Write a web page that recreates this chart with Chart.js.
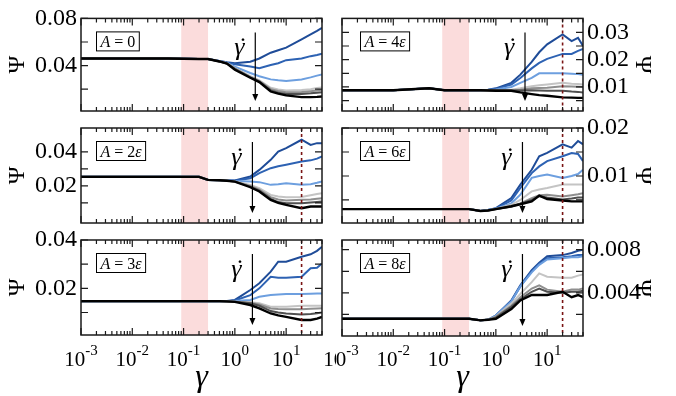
<!DOCTYPE html>
<html>
<head>
<meta charset="utf-8">
<script src="https://cdn.jsdelivr.net/npm/chart.js@4.4.1/dist/chart.umd.min.js"></script>
<style>
  body { margin: 0; background: #fff; }
  #wrap { position: relative; width: 676px; height: 396px; overflow: hidden; }
  canvas { position: absolute; top: 0; }
</style>
</head>
<body>
<div id="wrap"></div>
<script>
// shear strain gamma (x of every curve)
const gammaVals = [0.001, 0.01, 0.05, 0.1, 0.2, 0.3, 0.5, 0.7, 1, 2, 3, 5, 7, 10, 20, 30, 40, 50]

// Psi(gamma), one row per shear rate (fast -> slow, blue -> black)
const psiA0 = [
  [0.046, 0.046, 0.046, 0.0458, 0.0456, 0.0456, 0.0440, 0.0428, 0.0419, 0.0433, 0.0460, 0.0509, 0.0530, 0.0552, 0.0623, 0.0665, 0.0695, 0.0720],
  [0.046, 0.046, 0.046, 0.0458, 0.0456, 0.0456, 0.0438, 0.0425, 0.0411, 0.0392, 0.0378, 0.0405, 0.0420, 0.0446, 0.0460, 0.0480, 0.0490, 0.0500],
  [0.046, 0.046, 0.046, 0.0458, 0.0456, 0.0456, 0.0437, 0.0422, 0.0390, 0.0337, 0.0310, 0.0283, 0.0275, 0.0270, 0.0283, 0.0300, 0.0315, 0.0324],
  [0.046, 0.046, 0.046, 0.0458, 0.0456, 0.0456, 0.0436, 0.0420, 0.0378, 0.0310, 0.0275, 0.0212, 0.0198, 0.0188, 0.0193, 0.0200, 0.0210, 0.0215],
  [0.046, 0.046, 0.046, 0.0458, 0.0456, 0.0456, 0.0436, 0.0419, 0.0375, 0.0305, 0.0270, 0.0200, 0.0185, 0.0174, 0.0177, 0.0183, 0.0188, 0.0193],
  [0.046, 0.046, 0.046, 0.0458, 0.0456, 0.0456, 0.0435, 0.0418, 0.0372, 0.0300, 0.0265, 0.0190, 0.0170, 0.0160, 0.0160, 0.0165, 0.0170, 0.0174],
  [0.046, 0.046, 0.046, 0.0458, 0.0456, 0.0456, 0.0435, 0.0417, 0.0365, 0.0297, 0.0260, 0.0180, 0.0162, 0.0147, 0.0133, 0.0133, 0.0135, 0.0138]
]
const psiA2 = [
  [0.0253, 0.0253, 0.0253, 0.0253, 0.0253, 0.0235, 0.0234, 0.0233, 0.0232, 0.0255, 0.0294, 0.0353, 0.0402, 0.0422, 0.0471, 0.0441, 0.0451, 0.0451],
  [0.0253, 0.0253, 0.0253, 0.0253, 0.0253, 0.0235, 0.0233, 0.0232, 0.0230, 0.0245, 0.0275, 0.0304, 0.0315, 0.0324, 0.0343, 0.0350, 0.0360, 0.0373],
  [0.0253, 0.0253, 0.0253, 0.0253, 0.0253, 0.0235, 0.0233, 0.0231, 0.0228, 0.0226, 0.0222, 0.0206, 0.0210, 0.0216, 0.0206, 0.0210, 0.0218, 0.0226],
  [0.0253, 0.0253, 0.0253, 0.0253, 0.0253, 0.0235, 0.0233, 0.0231, 0.0226, 0.0206, 0.0186, 0.0147, 0.0138, 0.0133, 0.0135, 0.0145, 0.0152, 0.0157],
  [0.0253, 0.0253, 0.0253, 0.0253, 0.0253, 0.0235, 0.0233, 0.0230, 0.0226, 0.0200, 0.0178, 0.0134, 0.0120, 0.0114, 0.0118, 0.0120, 0.0124, 0.0127],
  [0.0253, 0.0253, 0.0253, 0.0253, 0.0253, 0.0235, 0.0233, 0.0230, 0.0225, 0.0196, 0.0172, 0.0124, 0.0105, 0.0098, 0.0098, 0.0103, 0.0106, 0.0108],
  [0.0253, 0.0253, 0.0253, 0.0253, 0.0253, 0.0235, 0.0233, 0.0230, 0.0225, 0.0192, 0.0167, 0.0118, 0.0100, 0.0088, 0.0069, 0.0079, 0.0079, 0.0079]
]
const psiA3 = [
  [0.0147, 0.0147, 0.0147, 0.0147, 0.0147, 0.0147, 0.0147, 0.0148, 0.0152, 0.0193, 0.0221, 0.0269, 0.0310, 0.0310, 0.0331, 0.0341, 0.0355, 0.0372],
  [0.0147, 0.0147, 0.0147, 0.0147, 0.0147, 0.0147, 0.0147, 0.0147, 0.0150, 0.0172, 0.0200, 0.0248, 0.0244, 0.0244, 0.0248, 0.0283, 0.0285, 0.0303],
  [0.0147, 0.0147, 0.0147, 0.0147, 0.0147, 0.0147, 0.0147, 0.0147, 0.0148, 0.0152, 0.0165, 0.0172, 0.0175, 0.0177, 0.0177, 0.0178, 0.0179, 0.0179],
  [0.0147, 0.0147, 0.0147, 0.0147, 0.0147, 0.0147, 0.0147, 0.0146, 0.0145, 0.0142, 0.0138, 0.0124, 0.0124, 0.0124, 0.0128, 0.0128, 0.0128, 0.0128],
  [0.0147, 0.0147, 0.0147, 0.0147, 0.0147, 0.0147, 0.0147, 0.0146, 0.0145, 0.0140, 0.0133, 0.0117, 0.0115, 0.0114, 0.0114, 0.0116, 0.0117, 0.0118],
  [0.0147, 0.0147, 0.0147, 0.0147, 0.0147, 0.0147, 0.0147, 0.0146, 0.0145, 0.0138, 0.0128, 0.0106, 0.0100, 0.0096, 0.0092, 0.0094, 0.0097, 0.0100],
  [0.0147, 0.0147, 0.0147, 0.0147, 0.0147, 0.0147, 0.0147, 0.0146, 0.0144, 0.0131, 0.0117, 0.0096, 0.0088, 0.0082, 0.0069, 0.0069, 0.0075, 0.0082]
]
const psiA4 = [
  [0.0088, 0.0088, 0.0095, 0.0088, 0.0088, 0.0088, 0.0088, 0.0090, 0.0095, 0.0115, 0.0145, 0.0192, 0.0227, 0.0256, 0.0292, 0.0268, 0.0280, 0.0250],
  [0.0088, 0.0088, 0.0095, 0.0088, 0.0088, 0.0088, 0.0088, 0.0089, 0.0093, 0.0109, 0.0133, 0.0168, 0.0188, 0.0203, 0.0221, 0.0221, 0.0232, 0.0239],
  [0.0088, 0.0088, 0.0095, 0.0088, 0.0088, 0.0088, 0.0088, 0.0089, 0.0091, 0.0100, 0.0115, 0.0133, 0.0150, 0.0150, 0.0150, 0.0148, 0.0147, 0.0145],
  [0.0088, 0.0088, 0.0095, 0.0088, 0.0088, 0.0088, 0.0088, 0.0088, 0.0089, 0.0090, 0.0095, 0.0103, 0.0106, 0.0109, 0.0115, 0.0112, 0.0111, 0.0109],
  [0.0088, 0.0088, 0.0095, 0.0088, 0.0088, 0.0088, 0.0088, 0.0088, 0.0088, 0.0088, 0.0090, 0.0095, 0.0096, 0.0097, 0.0103, 0.0102, 0.0101, 0.0100],
  [0.0088, 0.0088, 0.0095, 0.0088, 0.0088, 0.0088, 0.0088, 0.0088, 0.0088, 0.0087, 0.0087, 0.0088, 0.0087, 0.0086, 0.0086, 0.0083, 0.0082, 0.0080],
  [0.0088, 0.0088, 0.0095, 0.0088, 0.0088, 0.0088, 0.0088, 0.0087, 0.0086, 0.0086, 0.0080, 0.0074, 0.0070, 0.0068, 0.0062, 0.0061, 0.0060, 0.0060]
]
const psiA6 = [
  [0.0031, 0.0031, 0.0031, 0.0031, 0.0031, 0.0031, 0.0027, 0.0029, 0.0033, 0.0054, 0.0082, 0.0113, 0.0141, 0.0148, 0.0166, 0.0159, 0.0173, 0.0166],
  [0.0031, 0.0031, 0.0031, 0.0031, 0.0031, 0.0031, 0.0027, 0.0029, 0.0032, 0.0049, 0.0075, 0.0106, 0.0120, 0.0131, 0.0141, 0.0148, 0.0146, 0.0131],
  [0.0031, 0.0031, 0.0031, 0.0031, 0.0031, 0.0031, 0.0027, 0.0029, 0.0032, 0.0043, 0.0061, 0.0096, 0.0100, 0.0103, 0.0096, 0.0100, 0.0104, 0.0113],
  [0.0031, 0.0031, 0.0031, 0.0031, 0.0031, 0.0031, 0.0027, 0.0028, 0.0031, 0.0040, 0.0050, 0.0068, 0.0072, 0.0075, 0.0082, 0.0082, 0.0082, 0.0082],
  [0.0031, 0.0031, 0.0031, 0.0031, 0.0031, 0.0031, 0.0027, 0.0028, 0.0031, 0.0037, 0.0043, 0.0054, 0.0060, 0.0061, 0.0057, 0.0060, 0.0062, 0.0064],
  [0.0031, 0.0031, 0.0031, 0.0031, 0.0031, 0.0031, 0.0027, 0.0028, 0.0031, 0.0036, 0.0042, 0.0050, 0.0058, 0.0055, 0.0051, 0.0053, 0.0055, 0.0055],
  [0.0031, 0.0031, 0.0031, 0.0031, 0.0031, 0.0031, 0.0027, 0.0028, 0.0031, 0.0037, 0.0041, 0.0047, 0.0059, 0.0052, 0.0049, 0.0047, 0.0047, 0.0047]
]
const psiA8 = [
  [0.0016, 0.0016, 0.0016, 0.0016, 0.0016, 0.0016, 0.00145, 0.0015, 0.0019, 0.0033, 0.0047, 0.0061, 0.0068, 0.0074, 0.0075, 0.0077, 0.0079, 0.0080],
  [0.0016, 0.0016, 0.0016, 0.0016, 0.0016, 0.0016, 0.00145, 0.0015, 0.0019, 0.0032, 0.0046, 0.0060, 0.0067, 0.0072, 0.0073, 0.0074, 0.0075, 0.0075],
  [0.0016, 0.0016, 0.0016, 0.0016, 0.0016, 0.0016, 0.00145, 0.0015, 0.0019, 0.0032, 0.0046, 0.0059, 0.0066, 0.0071, 0.0072, 0.0073, 0.0073, 0.0074],
  [0.0016, 0.0016, 0.0016, 0.0016, 0.0016, 0.0016, 0.00145, 0.0015, 0.0018, 0.0030, 0.0039, 0.0050, 0.0058, 0.0055, 0.0054, 0.0054, 0.0056, 0.0057],
  [0.0016, 0.0016, 0.0016, 0.0016, 0.0016, 0.0016, 0.00145, 0.0015, 0.0018, 0.0028, 0.0036, 0.0044, 0.0047, 0.0043, 0.0041, 0.0043, 0.0043, 0.0044],
  [0.0016, 0.0016, 0.0016, 0.0016, 0.0016, 0.0016, 0.00145, 0.0015, 0.0017, 0.0027, 0.0034, 0.0041, 0.0044, 0.0041, 0.0040, 0.0041, 0.0041, 0.0042],
  [0.0016, 0.0016, 0.0016, 0.0016, 0.0016, 0.0016, 0.00145, 0.0015, 0.0016, 0.0025, 0.0033, 0.0038, 0.0038, 0.0038, 0.0041, 0.0036, 0.0038, 0.0036]
]

const lineColors = ['#1f4c98', '#2d62b3', '#6d9fdf', '#c4c4c4', '#8f8f8f', '#505050', '#000000']

// panel order: left column top->bottom, then right column top->bottom
const panelData = [psiA0, psiA2, psiA3, psiA4, psiA6, psiA8]
const panelA = ['0', '2ε', '3ε', '4ε', '6ε', '8ε']
const yMins = [0.0015, -0.0018, 0.0007, 0.0012, 0.0002, 0]
const yMaxs = [0.08, 0.054, 0.04, 0.0351, 0.02, 0.0089]
const yTickVals = [
  [0.02, 0.04, 0.06, 0.08],
  [0.01, 0.02, 0.03, 0.04],
  [0.01, 0.02, 0.03, 0.04],
  [0.005, 0.01, 0.015, 0.02, 0.025, 0.03],
  [0.005, 0.01, 0.015, 0.02],
  [0.002, 0.004, 0.006, 0.008]
]
const yTickLabels = [
  ['', '0.04', '', '0.08'],
  ['', '0.02', '', '0.04'],
  ['', '0.02', '', '0.04'],
  ['', '0.01', '', '0.02', '', '0.03'],
  ['', '0.01', '', '0.02'],
  ['', '0.004', '', '0.008']
]
const arrowGamma = [2.5, 2.2, 2.2, 3.7, 3.3, 3.3]
const dashGamma = [null, 20, 20, 20, 20, 20]
const bandGamma = [0.09, 0.3]
const xDecadesLeft = [-3, -2, -1, 0, 1, 2]
const xDecadesRight = [-3, -2, -1, 0, 1]

const SERIF = '"Liberation Serif", "DejaVu Serif", serif'

/* everything around the curves: frame, ticks, band, arrow, labels */
const panelDecor = {
  id: 'panelDecor',
  beforeDatasetsDraw(chart, args, o) {
    const {ctx, chartArea: a} = chart
    const x = chart.scales.x
    const x0 = x.getPixelForValue(bandGamma[0])
    const x1 = x.getPixelForValue(bandGamma[1])
    ctx.save()
    ctx.fillStyle = '#fbdcdc'
    ctx.fillRect(x0, a.top, x1 - x0, a.bottom - a.top)
    ctx.restore()
  },
  afterDatasetsDraw(chart, args, o) {
    const {ctx, chartArea: a} = chart
    const x = chart.scales.x, y = chart.scales.y
    ctx.save()

    // dashed line
    if (o.dash) {
      const px = x.getPixelForValue(o.dash)
      ctx.strokeStyle = '#7a1414'
      ctx.lineWidth = 1.6
      ctx.setLineDash([3, 3])
      ctx.beginPath(); ctx.moveTo(px, a.top); ctx.lineTo(px, a.bottom); ctx.stroke()
      ctx.setLineDash([])
    }

    // frame
    ctx.strokeStyle = '#1a1a1a'
    ctx.lineWidth = 1.5
    ctx.strokeRect(a.left, a.top, a.right - a.left, a.bottom - a.top)

    // inward ticks
    ctx.lineWidth = 1.2
    ctx.beginPath()
    for (const d of xDecadesLeft) {
      for (let k = 1; k <= 9; k++) {
        const v = k * Math.pow(10, d)
        if (v < x.min || v > x.max) continue
        const px = x.getPixelForValue(v)
        const len = k === 1 ? 7 : 4
        ctx.moveTo(px, a.bottom); ctx.lineTo(px, a.bottom - len)
        ctx.moveTo(px, a.top); ctx.lineTo(px, a.top + len)
      }
    }
    y.ticks.forEach(t => {
      const py = y.getPixelForValue(t.value)
      ctx.moveTo(a.left, py); ctx.lineTo(a.left + 7, py)
      ctx.moveTo(a.right, py); ctx.lineTo(a.right - 7, py)
    })
    ctx.stroke()

    // shear-rate arrow
    const ax = x.getPixelForValue(o.arrow)
    const yTop = a.top + 14, yBot = a.bottom - 10
    ctx.strokeStyle = '#000'
    ctx.lineWidth = 1.2
    ctx.beginPath(); ctx.moveTo(ax, yTop); ctx.lineTo(ax, yBot - 6); ctx.stroke()
    ctx.fillStyle = '#000'
    ctx.beginPath(); ctx.moveTo(ax - 3, yBot - 7); ctx.lineTo(ax + 3, yBot - 7); ctx.lineTo(ax, yBot); ctx.closePath(); ctx.fill()
    ctx.font = 'italic 26px ' + SERIF
    ctx.textAlign = 'center'
    ctx.textBaseline = 'alphabetic'
    ctx.fillText('γ', ax - 16, a.top + 37)
    ctx.fillText('˙', ax - 14, a.top + 37)

    // A label in a box
    ctx.textAlign = 'left'
    const parts = [['A', true], [' = ', false]]
    for (const ch of o.label) parts.push([ch, ch === 'ε'])
    let w = 0
    parts.forEach(p => { ctx.font = (p[1] ? 'italic ' : '') + '16px ' + SERIF; w += ctx.measureText(p[0]).width })
    const bx = a.left + o.boxDx, by = a.top + 13
    ctx.lineWidth = 1
    ctx.strokeStyle = '#000'
    ctx.strokeRect(bx + 0.5, by + 0.5, w + 8, 19)
    let tx = bx + 4.5
    parts.forEach(p => {
      ctx.font = (p[1] ? 'italic ' : '') + '16px ' + SERIF
      ctx.fillText(p[0], tx, by + 15.5)
      tx += ctx.measureText(p[0]).width
    })

    // x tick labels + title on the bottom row
    if (o.bottom) {
      for (const d of o.decades) {
        const px = x.getPixelForValue(Math.pow(10, d))
        const base = '10', ex = d < 0 ? '-' + (-d) : String(d)
        ctx.font = '21px ' + SERIF
        const wb = ctx.measureText(base).width
        ctx.font = '15px ' + SERIF
        const we = ctx.measureText(ex).width
        const sx = px - (wb + we) / 2
        ctx.font = '21px ' + SERIF
        ctx.fillText(base, sx, 366)
        ctx.font = '15px ' + SERIF
        ctx.fillText(ex, sx + wb, 355)
      }
      ctx.font = 'italic 32px ' + SERIF
      ctx.textAlign = 'center'
      ctx.fillText('γ', (a.left + a.right) / 2, 386)
    }
    ctx.restore()
  }
}

const rowTop = [15, 128, 240]
const rowBottom = [111, 223, 335]

function makePanel(i) {
  const right = i >= 3
  const row = i % 3
  const cv = document.createElement('canvas')
  const cw = right ? 340 : 336
  cv.width = cw; cv.height = 396
  cv.style.left = (right ? 336 : 0) + 'px'
  document.getElementById('wrap').appendChild(cv)

  const yAxisW = right ? 93 : 81
  const datasets = panelData[i].map((vals, s) => ({
    data: gammaVals.map((g, k) => ({x: g, y: vals[k]})),
    borderColor: lineColors[s],
    borderWidth: s === 6 ? 2.4 : 2,
    pointRadius: 0,
    fill: false,
    order: 6 - s
  }))

  new Chart(cv, {
    type: 'line',
    data: {datasets},
    options: {
      animation: false,
      responsive: false,
      layout: {padding: {
        left: right ? 6 : 0,
        right: right ? 0 : 14,
        top: rowTop[row],
        bottom: 396 - rowBottom[row] - (right && row === 2 ? 1 : 0)
      }},
      scales: {
        x: {type: 'logarithmic', min: 0.001, max: 50, display: false},
        y: {
          position: right ? 'right' : 'left',
          min: yMins[i], max: yMaxs[i],
          afterBuildTicks: s => { s.ticks = yTickVals[i].map(v => ({value: v})) },
          afterFit: s => { s.width = yAxisW },
          grid: {display: false, drawTicks: false},
          border: {display: false},
          ticks: {
            autoSkip: false,
            padding: 4,
            color: '#000',
            font: {family: SERIF, size: 24},
            callback: (v, k) => yTickLabels[i][k]
          },
          title: {
            display: true,
            text: 'Ψ',
            color: '#000',
            font: {family: SERIF, size: 24},
            padding: {top: right ? 19 : 3, bottom: 0}
          }
        }
      },
      plugins: {
        legend: {display: false},
        tooltip: {enabled: false},
        panelDecor: {
          arrow: arrowGamma[i],
          dash: dashGamma[i],
          label: panelA[i],
          boxDx: right ? 18 : 15,
          bottom: row === 2,
          decades: right ? xDecadesRight : xDecadesLeft
        }
      }
    },
    plugins: [panelDecor]
  })
}

for (let i = 0; i < 6; i++) makePanel(i)
</script>
</body>
</html>
